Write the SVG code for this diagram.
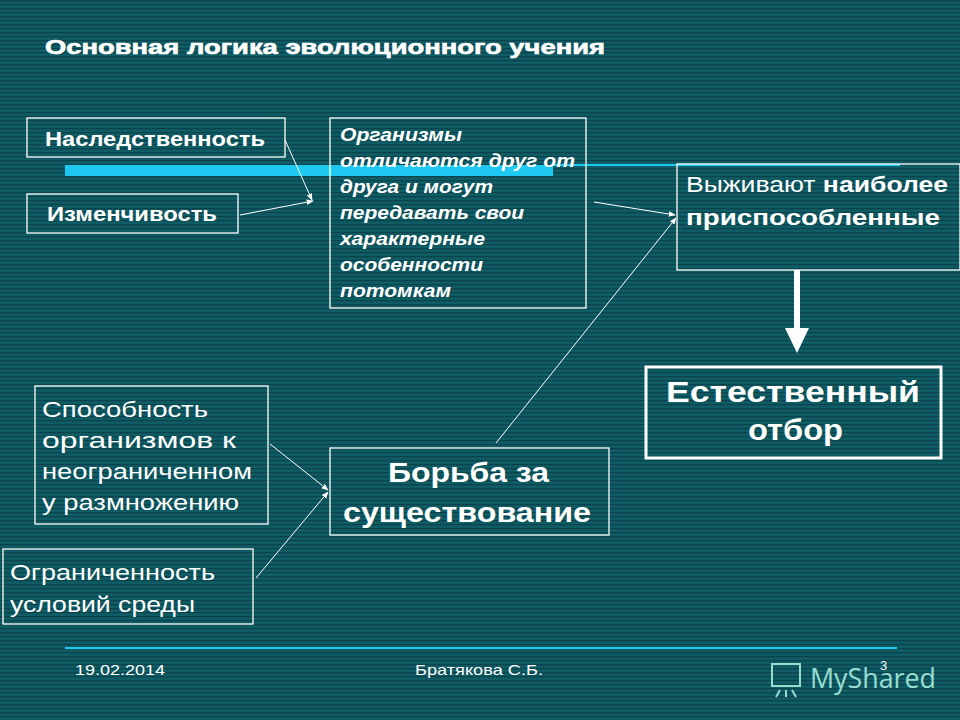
<svg xmlns="http://www.w3.org/2000/svg" width="960" height="720" viewBox="0 0 960 720">
<defs>
<pattern id="st" width="8" height="4" patternUnits="userSpaceOnUse"><rect width="8" height="4" fill="#0f5c65"/><rect width="8" height="1.3" fill="#0a434b"/></pattern>
<marker id="ah" viewBox="0 0 10 10" refX="9" refY="5" markerWidth="7" markerHeight="7" orient="auto"><path d="M0,1 L10,5 L0,9 z" fill="#fff"/></marker>
<style>
.b{fill:none;stroke:#fff;stroke-width:1.3}
.t{font-family:"Liberation Sans",Arial,sans-serif;fill:#fff}
.c{stroke:#fff;stroke-width:1;fill:none;marker-end:url(#ah)}
.i{font-size:19px;font-weight:bold;font-style:italic}
.s{font-size:22px}
</style>
</defs>
<rect width="960" height="720" fill="url(#st)"/>
<text class="t" x="45" y="54" font-size="20" font-weight="bold" textLength="560" lengthAdjust="spacingAndGlyphs" stroke="#fff" stroke-width="0.6">Основная логика эволюционного учения</text>
<line x1="553" y1="165" x2="900" y2="165" stroke="#1ec8f0" stroke-width="2"/>
<rect x="65" y="165" width="488" height="11" fill="#1ec8f0"/>
<line x1="65" y1="648" x2="897" y2="648" stroke="#1ec8f0" stroke-width="2"/>
<g id="n1"><rect class="b" x="27" y="118" width="258" height="39"/><text class="t" x="45" y="146" font-size="21" font-weight="bold" textLength="220" lengthAdjust="spacingAndGlyphs">Наследственность</text></g>
<g id="n2"><rect class="b" x="27" y="194" width="211" height="39"/><text class="t" x="47" y="221" font-size="21" font-weight="bold" textLength="170" lengthAdjust="spacingAndGlyphs">Изменчивость</text></g>
<g id="n3"><rect class="b" x="330" y="118" width="256" height="190"/>
<text class="t i" x="340" y="141" textLength="122" lengthAdjust="spacingAndGlyphs">Организмы</text>
<text class="t i" x="340" y="167" textLength="235" lengthAdjust="spacingAndGlyphs">отличаются друг от</text>
<text class="t i" x="340" y="193" textLength="153" lengthAdjust="spacingAndGlyphs">друга и могут</text>
<text class="t i" x="340" y="219" textLength="184" lengthAdjust="spacingAndGlyphs">передавать свои</text>
<text class="t i" x="340" y="245" textLength="145" lengthAdjust="spacingAndGlyphs">характерные</text>
<text class="t i" x="340" y="271" textLength="143" lengthAdjust="spacingAndGlyphs">особенности</text>
<text class="t i" x="340" y="297" textLength="111" lengthAdjust="spacingAndGlyphs">потомкам</text></g>
<g id="n4"><rect class="b" x="677" y="164" width="283" height="106"/>
<text class="t" x="686" y="192" font-size="22" textLength="262" lengthAdjust="spacingAndGlyphs">Выживают <tspan font-weight="bold">наиболее</tspan></text>
<text class="t" x="686" y="225" font-size="22" font-weight="bold" textLength="254" lengthAdjust="spacingAndGlyphs">приспособленные</text></g>
<g id="n5"><rect x="646" y="367" width="295" height="91" fill="none" stroke="#fff" stroke-width="3"/>
<text class="t" x="666" y="402" font-size="29" font-weight="bold" textLength="254" lengthAdjust="spacingAndGlyphs">Естественный</text>
<text class="t" x="748" y="440" font-size="29" font-weight="bold" textLength="95" lengthAdjust="spacingAndGlyphs">отбор</text></g>
<g id="n6"><rect class="b" x="35" y="386" width="233" height="138"/>
<text class="t s" x="42" y="417" textLength="166" lengthAdjust="spacingAndGlyphs">Способность</text>
<text class="t s" x="42" y="448" textLength="194" lengthAdjust="spacingAndGlyphs">организмов к</text>
<text class="t s" x="42" y="479" textLength="210" lengthAdjust="spacingAndGlyphs">неограниченном</text>
<text class="t s" x="42" y="510" textLength="197" lengthAdjust="spacingAndGlyphs">у размножению</text></g>
<g id="n7"><rect class="b" x="3" y="549" width="250" height="75"/>
<text class="t s" x="10" y="580" textLength="205" lengthAdjust="spacingAndGlyphs">Ограниченность</text>
<text class="t s" x="10" y="612" textLength="185" lengthAdjust="spacingAndGlyphs">условий среды</text></g>
<g id="n8"><rect class="b" x="330" y="448" width="279" height="87"/>
<text class="t" x="388" y="482" font-size="27" font-weight="bold" textLength="161" lengthAdjust="spacingAndGlyphs">Борьба за</text>
<text class="t" x="343" y="522" font-size="27" font-weight="bold" textLength="248" lengthAdjust="spacingAndGlyphs">существование</text></g>
<g id="connectors">
<line class="c" x1="285" y1="140" x2="312" y2="200"/>
<line class="c" x1="240" y1="215" x2="313" y2="201"/>
<line class="c" x1="594" y1="202" x2="675" y2="215"/>
<line class="c" x1="496" y1="443" x2="676" y2="218"/>
<line class="c" x1="270" y1="444" x2="328" y2="490"/>
<line class="c" x1="256" y1="578" x2="328" y2="492"/>
<line x1="797" y1="270" x2="797" y2="330" stroke="#fff" stroke-width="6"/>
<path d="M785,328 L809,328 L797,353 z" fill="#fff"/>
</g>
<text class="t" x="75" y="675" font-size="15" textLength="90" lengthAdjust="spacingAndGlyphs">19.02.2014</text>
<text class="t" x="415" y="675" font-size="15" textLength="128" lengthAdjust="spacingAndGlyphs">Братякова С.Б.</text>
<text class="t" x="880" y="670" font-size="13">3</text>
<g opacity="0.8" fill="none" stroke="#bfe" stroke-width="2">
<rect x="772" y="664" width="28" height="22"/><line x1="780" y1="690" x2="776" y2="697"/><line x1="786" y1="690" x2="786" y2="697"/><line x1="792" y1="690" x2="796" y2="697"/>
</g>
<text x="810" y="688" font-family="Open Sans,sans-serif" font-size="27" fill="#bfe" opacity="0.8" textLength="126" lengthAdjust="spacingAndGlyphs">MyShared</text>
</svg>
